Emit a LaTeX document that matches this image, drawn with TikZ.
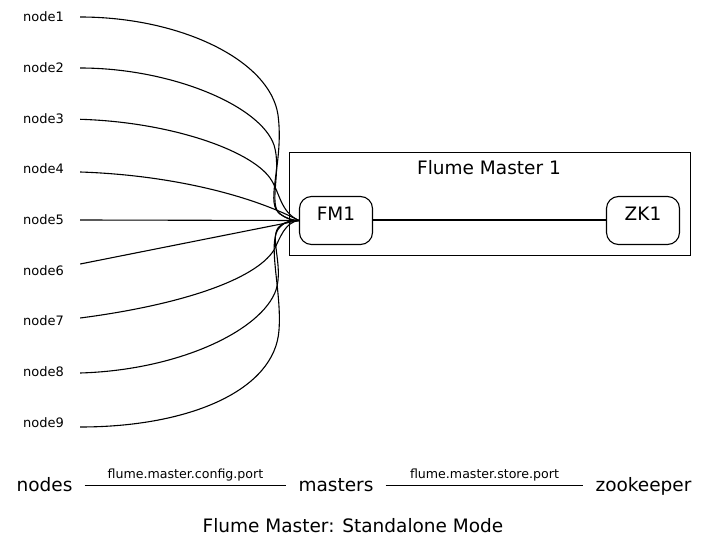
\documentclass[tikz,border=0pt]{standalone}
\usepackage{fontspec}
\setmainfont{DejaVu Sans}
\begin{document}
\begin{tikzpicture}[x=1pt,y=-1pt,
  lbl/.style={font=\fontsize{13}{15}\selectfont, inner sep=0pt, minimum width=73pt, anchor=base},
  edge/.style={line width=1.1pt, black},
  fmbox/.style={draw, line width=1.1pt, rounded corners=12pt, minimum width=73pt, minimum height=48pt,
    inner sep=0pt, font=\fontsize{18.5}{20}\selectfont, text height=14pt, text depth=13pt},
  cluster/.style={draw, line width=1pt, minimum width=401pt, minimum height=103pt, inner sep=0pt},
  big/.style={font=\fontsize{18.5}{20}\selectfont, inner ysep=0pt, inner xsep=12pt, text height=11pt, text depth=0pt, anchor=base},
  small/.style={font=\fontsize{12.6}{14}\selectfont, inner sep=0pt, anchor=base}
]
\useasboundingbox (0,0) rectangle (707,548);

% cluster
\node[cluster] (clu) at (489.5,204.5) {};
\node[font=\fontsize{18.5}{20}\selectfont, inner sep=0pt, anchor=base] (clut) at (489,175) {Flume Master 1};
\node[fmbox] (fm1) at (336,220.5) {FM1};
\node[fmbox] (zk1) at (643,220.5) {ZK1};
\draw[line width=2pt] (fm1) -- (zk1);

% node labels
\node[lbl] (n1) at (43.5,21.7) {node1};
\node[lbl] (n2) at (43.5,72.4) {node2};
\node[lbl] (n3) at (43.5,123.1) {node3};
\node[lbl] (n4) at (43.5,173.8) {node4};
\node[lbl] (n5) at (43.5,224.5) {node5};
\node[lbl] (n6) at (43.5,275.2) {node6};
\node[lbl] (n7) at (43.5,325.9) {node7};
\node[lbl] (n8) at (43.5,376.6) {node8};
\node[lbl] (n9) at (43.5,427.3) {node9};

% edges
\draw[edge] ([yshift=4.7pt]n1.base east) .. controls (180,17) and (270,60) .. (278,115)
  .. controls (284,160) and (266,200) .. (278,212) .. controls (284,218) and (292,220.5) .. (fm1.west);
\draw[edge] ([yshift=4.4pt]n2.base east) .. controls (170,68) and (260,105) .. (274,145)
  .. controls (282,170) and (268,205) .. (280,214) .. controls (286,218) and (292,220.5) .. (fm1.west);
\draw[edge] ([yshift=3.8pt]n3.base east) .. controls (170,122) and (250,150) .. (270,178)
  .. controls (280,192) and (280,212) .. (fm1.west);
\draw[edge] ([yshift=1.8pt]n4.base east) .. controls (170,175) and (250,195) .. (fm1.west);
\draw[edge] ([yshift=4.5pt]n5.base east) -- (fm1.west);
\draw[edge] ([yshift=11.2pt]n6.base east) -- (fm1.west);
\draw[edge] ([yshift=7.9pt]n7.base east) .. controls (180,305) and (255,280) .. (274,250)
  .. controls (280,238) and (285,222) .. (fm1.west);
\draw[edge] ([yshift=3.6pt]n8.base east) .. controls (180,370) and (262,330) .. (276,290)
  .. controls (284,265) and (268,235) .. (280,226) .. controls (286,221) and (292,220.5) .. (fm1.west);
\draw[edge] ([yshift=0.3pt]n9.base east) .. controls (190,427) and (275,390) .. (279,330)
  .. controls (282,290) and (266,240) .. (280,227) .. controls (286,221) and (292,220.5) .. (fm1.west);

% legend
\node[big] (lnodes) at (44.5,491) {nodes};
\node[big] (lmasters) at (336,491) {masters};
\node[big] (lzk) at (643.5,491) {zookeeper};
\draw[line width=1pt] (lnodes.east) -- node[small, midway, yshift=7.5pt] (lcfg) {flume.master.config.port} (lmasters.west);
\draw[line width=1pt] (lmasters.east) -- node[small, midway, yshift=7.5pt] (lstore) {flume.master.store.port} (lzk.west);

\node[font=\fontsize{18.5}{20}\selectfont, inner sep=0pt, anchor=base] (title) at (353,532) {Flume Master: Standalone Mode};
\end{tikzpicture}
\end{document}
